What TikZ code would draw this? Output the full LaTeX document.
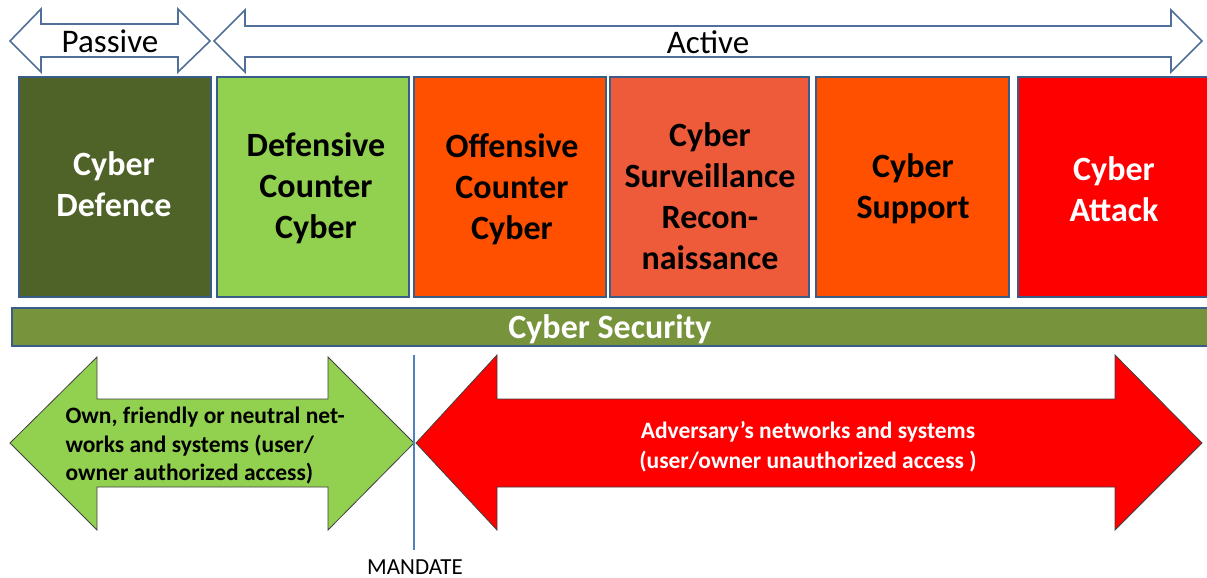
\documentclass[tikz,border=0pt]{standalone}
\usepackage{fontspec}
\setmainfont{Carlito}
\definecolor{olivedk}{HTML}{4F6228}
\definecolor{lgreen}{HTML}{92D050}
\definecolor{orng}{HTML}{FF5000}
\definecolor{surv}{HTML}{EE5B3A}
\definecolor{secbar}{HTML}{77933C}
\definecolor{bord}{HTML}{385D8A}
\definecolor{arrline}{HTML}{50709A}
\definecolor{mand}{HTML}{4F81BD}
\begin{document}
\begin{tikzpicture}[x=1pt,y=-1pt,
  box/.style={draw=bord,line width=2.6pt},
  boxtext/.style={font=\fontsize{34}{41}\selectfont\bfseries,align=center},
  toparrow/.style={draw=arrline,line width=1.6pt,fill=white,line join=miter},
  botarrow/.style={draw=black!75,line width=0.8pt}]
\useasboundingbox (0,0) rectangle (1207,578);
% top arrows
\draw[toparrow] (10,41) -- (41,9) -- (41,24) -- (178,24) -- (178,9) -- (210,41) -- (178,72) -- (178,57) -- (41,57) -- (41,72) -- cycle;
\draw[toparrow] (214,41) -- (245,10) -- (245,26) -- (1171,26) -- (1171,10) -- (1202,41) -- (1171,72) -- (1171,57) -- (245,57) -- (245,72) -- cycle;
\node[font=\fontsize{33}{36}\selectfont] (passive) at (110,41) {Passive};
\node[font=\fontsize{33}{36}\selectfont] (active) at (708,42) {Active};
% boxes
\begin{scope}
\clip (0,0) rectangle (1207,578);
\draw[box,fill=olivedk] (19,77) rectangle (211,297);
\draw[box,fill=lgreen] (217,77) rectangle (409,297);
\draw[box,fill=orng] (414,77) rectangle (606,297);
\draw[box,fill=surv] (610,77) rectangle (809,297);
\draw[box,fill=orng] (816,77) rectangle (1009,297);
\draw[box,fill=red] (1018,77) rectangle (1215,297);
\draw[box,fill=secbar] (12,308) rectangle (1215,346);
\end{scope}
\node[boxtext,text=white] (cd) at (114,184) {Cyber\\Defence};
\node[boxtext,text=black] (dcc) at (316,188) {Defensive\\Counter\\Cyber};
\node[boxtext,text=black] (occ) at (512,189) {Offensive\\Counter\\Cyber};
\node[boxtext,text=black] (csr) at (710,196) {Cyber\\Surveillance\\Recon-\\naissance};
\node[boxtext,text=black] (cs) at (913,189) {Cyber\\Support};
\node[boxtext,text=white] (ca) at (1114,189) {Cyber\\Attack};
\node[boxtext,text=white] (sec) at (610,329) {Cyber Security};
% bottom arrows
\draw[botarrow,fill=lgreen] (10,443) -- (97,357) -- (97,399) -- (328,399) -- (328,357) -- (414,443) -- (328,530) -- (328,487) -- (97,487) -- (97,530) -- cycle;
\draw[botarrow,fill=red] (416,443) -- (497,355) -- (497,399) -- (1115,399) -- (1115,355) -- (1202,443) -- (1115,530) -- (1115,487) -- (497,487) -- (497,530) -- cycle;
\draw[mand,line width=2pt] (414,355) coordinate (mtop) -- (414,550) coordinate (mbot);
\node[font=\fontsize{23}{25}\selectfont,anchor=north] (mandate) at (415,556) {MANDATE};
\node[font=\fontsize{23.5}{28.5}\selectfont\bfseries,align=left,anchor=west] (own) at (62,446) {Own, friendly or neutral net-\\works and systems (user/\\owner authorized access)};
\node[font=\fontsize{23.5}{30}\selectfont\bfseries,align=center,text=white] (adv) at (808,447) {Adversary’s networks and systems\\(user/owner unauthorized access )};
\end{tikzpicture}
\end{document}
